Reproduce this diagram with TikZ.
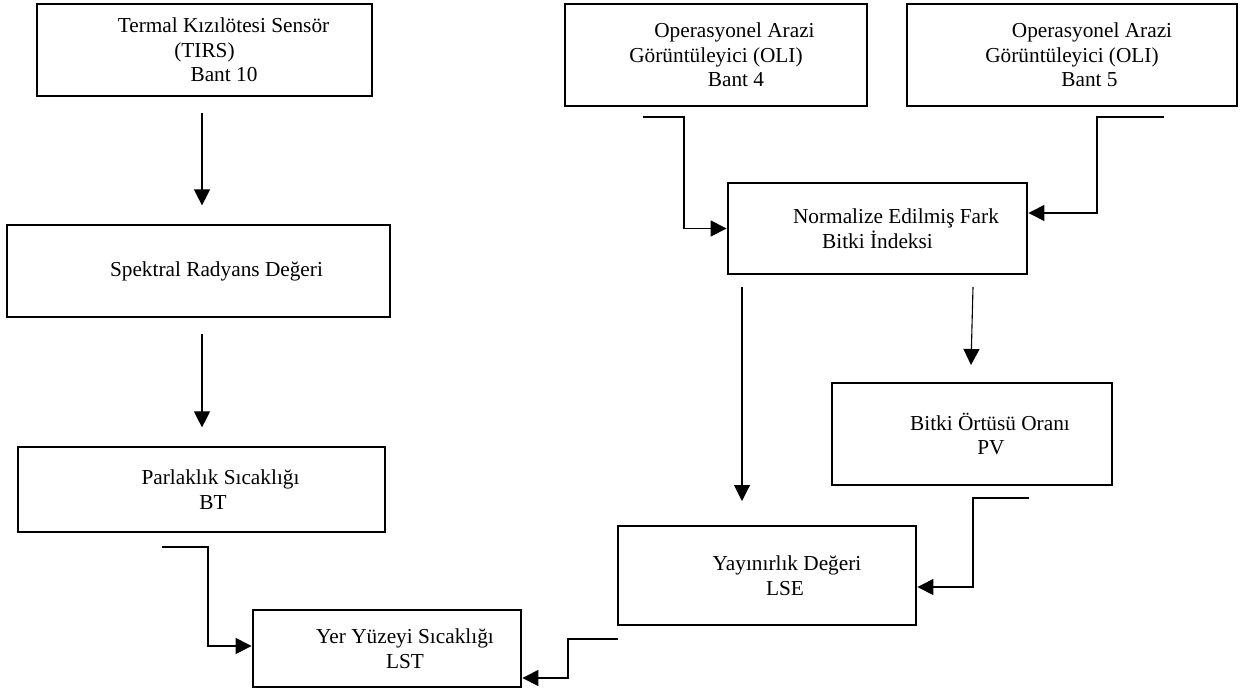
\documentclass[tikz,border=0pt]{standalone}
\usepackage{fontspec}
\setmainfont{Liberation Serif}
\usetikzlibrary{arrows.meta}

\begin{document}
\begin{tikzpicture}[x=1pt, y=-1pt,
    box/.style={draw, line width=2.8pt, align=center, inner sep=0pt,
                font=\fontsize{21.3pt}{24.5pt}\selectfont},
    conn/.style={line width=1.1pt, -{Triangle[length=16pt,width=16pt]}}]

                \useasboundingbox (0,0) rectangle (1248,691);

                % left column
                \node[box, minimum width=335pt, minimum height=92pt] (tirs) at (204.5,50) {\hspace*{38pt}Termal Kızılötesi Sensör\\(TIRS)\\\hspace*{39pt}Bant 10};
                \node[box, minimum width=383pt, minimum height=92pt] (spek) at (198.5,271) {\hspace*{36pt}Spektral Radyans Değeri};
                \node[box, minimum width=367pt, minimum height=85pt] (bt) at (201.5,489.5) {\hspace*{38pt}Parlaklık Sıcaklığı\\\hspace*{23pt}BT};
                \node[box, minimum width=268pt, minimum height=77pt] (lst) at (387,648.5) {\hspace*{36pt}Yer Yüzeyi Sıcaklığı\\\hspace*{36pt}LST};

                % right part
                \node[box, minimum width=302pt, minimum height=102pt] (b4) at (716,55) {\hspace*{37pt}Operasyonel Arazi\\Görüntüleyici (OLI)\\\hspace*{40pt}Bant 4};
                \node[box, minimum width=330pt, minimum height=102pt] (b5) at (1072,55) {\hspace*{40pt}Operasyonel Arazi\\Görüntüleyici (OLI)\\\hspace*{35pt}Bant 5};
                \node[box, minimum width=299pt, minimum height=91pt] (ndvi) at (877.5,228.5) {\hspace*{37pt}Normalize Edilmiş Fark\\Bitki İndeksi};
                \node[box, minimum width=280pt, minimum height=102pt] (pv) at (972,434) {\hspace*{36pt}Bitki Örtüsü Oranı\\\hspace*{38pt}PV};
                \node[box, minimum width=298pt, minimum height=99pt] (lse) at (767,575.5) {\hspace*{40pt}Yayınırlık Değeri\\\hspace*{36pt}LSE};

                % free ends of the connectors
                \coordinate (b4-out) at (643,117);
                \coordinate (b5-out) at (1164,117);
                \coordinate (ndvi-l) at (742,287);
                \coordinate (ndvi-r) at (973,287);
                \coordinate (pv-out) at (1029,498);
                \coordinate (bt-out) at (162,547);
                \coordinate (lse-out) at (618,639);

                \draw[conn] ([xshift=-2.5pt,yshift=-16pt]tirs.south) -- ++(0,92);
                \draw[conn] ([xshift=3.5pt,yshift=-16pt]spek.south) -- ++(0,93);
                \draw[conn] (b4-out) -- ++(41,0) |- (ndvi.west);
                \draw[conn] (b5-out) -- ++(-67,0) |- ([yshift=15.5pt]ndvi.east);
                \draw[conn] (ndvi-l) -- ++(0,214);
                \draw[conn] (ndvi-r) -- ++(-2,78);
                \draw[conn] (pv-out) -- ++(-56,0) |- ([yshift=-11.5pt]lse.east);
                \draw[conn] (bt-out) -- ++(46,0) |- ([yshift=2.5pt]lst.west);
                \draw[conn] (lse-out) -- ++(-50,0) |- ([yshift=-29.5pt]lst.east);

\end{tikzpicture}
\end{document}
